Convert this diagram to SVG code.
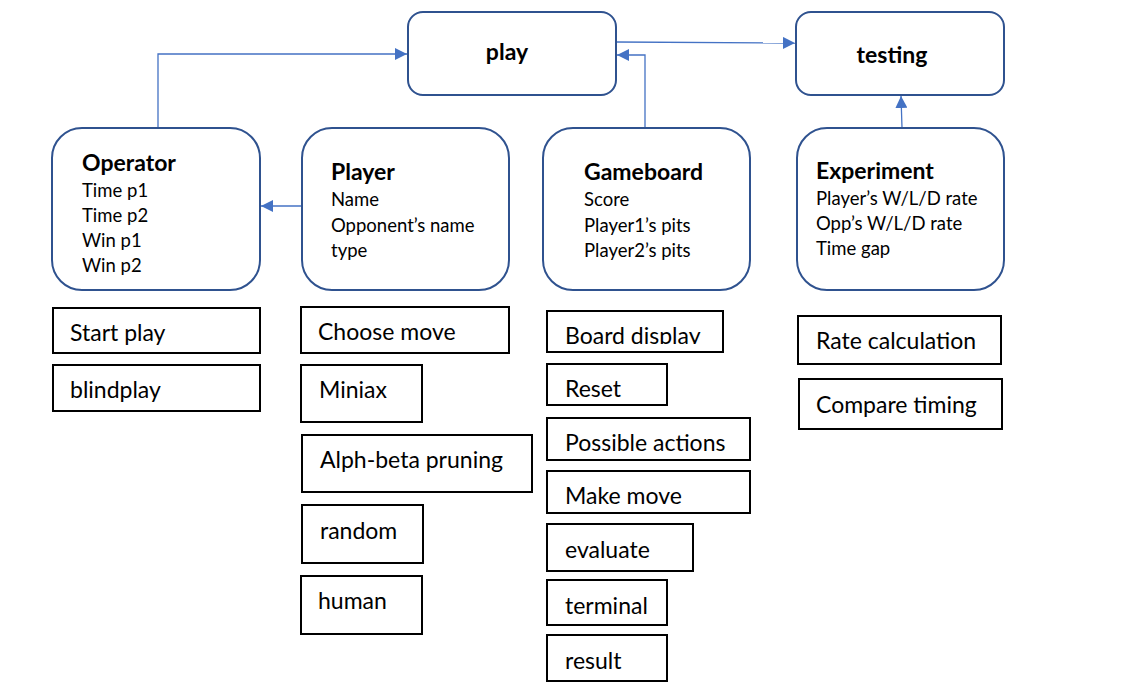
<svg xmlns="http://www.w3.org/2000/svg" width="1131" height="693" viewBox="0 0 1131 693">
<style>
.rn{fill:#fff;stroke:#2F528F;stroke-width:2}
.bx{fill:#fff;stroke:#000;stroke-width:2}
.t{font-family:Lato,"Open Sans",sans-serif;fill:#000}
.h{font-size:23px;font-weight:bold}
.a{font-size:18.5px}
.b{font-size:23px}
.c{fill:none;stroke:#4472C4;stroke-width:1.3}
</style>
<defs>
<marker id="ar" viewBox="0 0 10 10" refX="10" refY="5" markerWidth="12" markerHeight="12" markerUnits="userSpaceOnUse" orient="auto">
<path d="M0,0 L10,5 L0,10 z" fill="#4472C4"/>
</marker>
<clipPath id="cl"><rect x="548" y="312" width="174" height="32"/></clipPath>
</defs>
<rect width="1131" height="693" fill="#fff"/>
<g id="connectors">
<path class="c" d="M158,128 V54 H407" marker-end="url(#ar)"/>
<path class="c" d="M302,206 H261" marker-end="url(#ar)"/>
<path class="c" d="M645,128 V55 H617" marker-end="url(#ar)"/>
<path class="c" d="M616,42 L795,43" marker-end="url(#ar)"/>
<path class="c" d="M902,128 L901,96" marker-end="url(#ar)"/>
</g>
<g id="play"><rect class="rn" x="408" y="12" width="208" height="83" rx="15"/><text class="t h" x="507" y="60" text-anchor="middle">play</text></g>
<g id="testing"><rect class="rn" x="796" y="12" width="208" height="83" rx="15"/><text class="t h" x="892" y="63" text-anchor="middle">testing</text></g>
<g id="operator"><rect class="rn" x="52" y="128" width="208" height="162" rx="30"/>
<text class="t h" x="82" y="171">Operator</text>
<text class="t a" x="82" y="197">Time p1</text><text class="t a" x="82" y="222">Time p2</text><text class="t a" x="82" y="247">Win p1</text><text class="t a" x="82" y="272">Win p2</text></g>
<g id="player"><rect class="rn" x="302" y="128" width="207" height="162" rx="30"/>
<text class="t h" x="331" y="180">Player</text>
<text class="t a" x="331" y="206">Name</text><text class="t a" x="331" y="232">Opponent’s name</text><text class="t a" x="331" y="257">type</text></g>
<g id="gameboard"><rect class="rn" x="543" y="128" width="207" height="162" rx="30"/>
<text class="t h" x="584" y="180">Gameboard</text>
<text class="t a" x="584" y="206">Score</text><text class="t a" x="584" y="232">Player1’s pits</text><text class="t a" x="584" y="257">Player2’s pits</text></g>
<g id="experiment"><rect class="rn" x="797" y="128" width="207" height="162" rx="30"/>
<text class="t h" x="816" y="179">Experiment</text>
<text class="t a" x="816" y="205">Player’s W/L/D rate</text><text class="t a" x="816" y="230">Opp’s W/L/D rate</text><text class="t a" x="816" y="255">Time gap</text></g>
<g id="start-play"><rect class="bx" x="53" y="308" width="207" height="45"/><text class="t b" x="70" y="341">Start play</text></g>
<g id="blindplay"><rect class="bx" x="53" y="365" width="207" height="46"/><text class="t b" x="70" y="398">blindplay</text></g>
<g id="choose-move"><rect class="bx" x="301" y="307" width="208" height="46"/><text class="t b" x="318" y="340">Choose move</text></g>
<g id="miniax"><rect class="bx" x="301" y="365" width="121" height="57"/><text class="t b" x="319" y="398">Miniax</text></g>
<g id="alphabeta"><rect class="bx" x="302" y="435" width="230" height="57"/><text class="t b" x="320" y="468">Alph-beta pruning</text></g>
<g id="random"><rect class="bx" x="302" y="505" width="121" height="58"/><text class="t b" x="320" y="539">random</text></g>
<g id="human"><rect class="bx" x="301" y="576" width="121" height="58"/><text class="t b" x="318" y="609">human</text></g>
<g id="board-display"><rect class="bx" x="547" y="311" width="176" height="41"/><text class="t b" x="565" y="344" clip-path="url(#cl)">Board display</text></g>
<g id="reset"><rect class="bx" x="547" y="364" width="120" height="41"/><text class="t b" x="565" y="397">Reset</text></g>
<g id="possible-actions"><rect class="bx" x="547" y="418" width="203" height="42"/><text class="t b" x="565" y="451">Possible actions</text></g>
<g id="make-move"><rect class="bx" x="547" y="471" width="203" height="42"/><text class="t b" x="565" y="504">Make move</text></g>
<g id="evaluate"><rect class="bx" x="547" y="524" width="146" height="47"/><text class="t b" x="565" y="558">evaluate</text></g>
<g id="terminal"><rect class="bx" x="547" y="580" width="120" height="45"/><text class="t b" x="565" y="614">terminal</text></g>
<g id="result"><rect class="bx" x="547" y="635" width="120" height="46"/><text class="t b" x="565" y="669">result</text></g>
<g id="rate-calculation"><rect class="bx" x="798" y="316" width="203" height="48"/><text class="t b" x="816" y="349">Rate calculation</text></g>
<g id="compare-timing"><rect class="bx" x="799" y="379" width="203" height="50"/><text class="t b" x="816" y="413">Compare timing</text></g>
</svg>
